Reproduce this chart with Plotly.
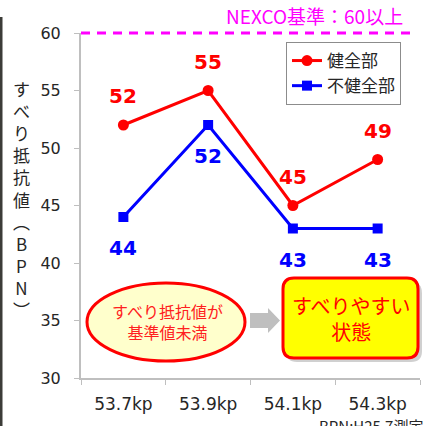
import plotly.graph_objects as go

categories = ["53.7kp", "53.9kp", "54.1kp", "54.3kp"]
healthy = [52, 55, 45, 49]
unhealthy = [44, 52, 43, 43]
healthy_name = "健全部"
unhealthy_name = "不健全部"
y_ticks = [30, 35, 40, 45, 50, 55, 60]
standard_value = 60

W, H = 434, 426
ML, MR, MT, MB = 81, 14, 33, 48
PW, PH = W - ML - MR, H - MT - MB

def px(x):
    return (x - ML) / PW

def py(y):
    return (H - MB - y) / PH

JP = "Noto Sans CJK JP"
NUM = "DejaVu Sans"

fig = go.Figure()
fig.add_trace(go.Scatter(
    x=categories, y=healthy, name=healthy_name, mode="lines+markers",
    line=dict(color="#FF0000", width=3),
    marker=dict(symbol="circle", size=11, color="#FF0000"),
))
fig.add_trace(go.Scatter(
    x=categories, y=unhealthy, name=unhealthy_name, mode="lines+markers",
    line=dict(color="#0000FF", width=3),
    marker=dict(symbol="square", size=10, color="#0000FF"),
))

annotations = []
for c, v in zip(categories, healthy):
    annotations.append(dict(x=c, y=v, xref="x", yref="y", text=str(v), showarrow=False,
                            yshift=29, font=dict(family=NUM, size=20, color="#FF0000", weight="bold")))
for c, v in zip(categories, unhealthy):
    annotations.append(dict(x=c, y=v, xref="x", yref="y", text=str(v), showarrow=False,
                            yshift=-31, font=dict(family=NUM, size=20, color="#0000FF", weight="bold")))

# y-axis title (vertical text)
title_chars = ["す", "べ", "り", "抵", "抗", "値", "︵", "B", "P", "N", "︶"]
annotations.append(dict(x=px(21), y=py(199), xref="paper", yref="paper", xanchor="center", yanchor="middle",
                        text="<br>".join(title_chars), showarrow=False,
                        font=dict(family=JP, size=17, color="#262626")))
# standard label
annotations.append(dict(x=px(405), y=py(16), xref="paper", yref="paper", xanchor="right", yanchor="middle",
                        text="NEXCO基準：" + str(standard_value) + "以上", showarrow=False,
                        font=dict(family=JP, size=19, color="#FF00FF")))
# ellipse text
annotations.append(dict(x=px(167), y=py(321), xref="paper", yref="paper", xanchor="center", yanchor="middle",
                        text="すべり抵抗値が<br>基準値未満", showarrow=False,
                        font=dict(family=JP, size=16, color="#FF2020")))
# box text
annotations.append(dict(x=px(351), y=py(318), xref="paper", yref="paper", xanchor="center", yanchor="middle",
                        text="すべりやすい<br>状態", showarrow=False,
                        font=dict(family=JP, size=20, color="#FF0000")))
# footnote
annotations.append(dict(x=px(317), y=py(413), xref="paper", yref="paper", xanchor="left", yanchor="top",
                        text="BPN:H25.7測定", showarrow=False,
                        font=dict(family=JP, size=15, color="#262626")))

def rounded_rect(x0, y0, x1, y1, r):
    pts = [
        ("M", [(x0 + r, y0)]),
        ("L", [(x1 - r, y0)]),
        ("Q", [(x1, y0), (x1, y0 + r)]),
        ("L", [(x1, y1 - r)]),
        ("Q", [(x1, y1), (x1 - r, y1)]),
        ("L", [(x0 + r, y1)]),
        ("Q", [(x0, y1), (x0, y1 - r)]),
        ("L", [(x0, y0 + r)]),
        ("Q", [(x0, y0), (x0 + r, y0)]),
    ]
    s = ""
    for cmd, ps in pts:
        s += cmd + " " + " ".join(f"{px(a):.5f},{py(b):.5f}" for a, b in ps) + " "
    return s + "Z"

def arrow_path():
    p = [(250, 313), (268, 313), (268, 308), (280, 320.5), (268, 333), (268, 328), (250, 328)]
    return "M " + " L ".join(f"{px(a):.5f},{py(b):.5f}" for a, b in p) + " Z"

shapes = [
    dict(type="rect", xref="paper", yref="paper", x0=px(0), x1=px(2.5), y0=py(426), y1=py(17),
         fillcolor="#3c3c38", line=dict(width=0), layer="above"),
    dict(type="line", xref="paper", yref="paper", x0=0, x1=px(416), y0=1, y1=1,
         line=dict(color="#FF00FF", width=3, dash="9px,7px"), layer="above"),
    dict(type="circle", xref="paper", yref="paper", x0=px(87), x1=px(245), y0=py(361), y1=py(283),
         fillcolor="#FFFFCC", line=dict(color="#FF0000", width=3), layer="above"),
    dict(type="path", xref="paper", yref="paper", path=arrow_path(),
         fillcolor="#BFBFBF", line=dict(width=0), layer="above"),
    dict(type="path", xref="paper", yref="paper", path=rounded_rect(286, 282, 422, 362, 11),
         fillcolor="rgba(120,120,120,0.35)", line=dict(width=0), layer="above"),
    dict(type="path", xref="paper", yref="paper", path=rounded_rect(283, 278, 418, 358, 11),
         fillcolor="#FFFF00", line=dict(color="#FF0000", width=3), layer="above"),
]

fig.update_layout(
    width=W, height=H,
    margin=dict(l=ML, r=MR, t=MT, b=MB, pad=0),
    paper_bgcolor="white", plot_bgcolor="white",
    showlegend=True,
    legend=dict(x=px(286), y=py(42), xanchor="left", yanchor="top",
                bgcolor="white", bordercolor="#8C8C8C", borderwidth=1,
                font=dict(family=JP, size=17, color="#262626")),
    xaxis=dict(type="category", categoryorder="array", categoryarray=categories,
               range=[-0.5, len(categories) - 0.5],
               tickson="boundaries", ticks="outside", ticklen=5, tickcolor="#BFBFBF", tickwidth=1,
               showline=True, linecolor="#BFBFBF", linewidth=2, showgrid=False, zeroline=False,
               tickfont=dict(family=NUM, size=17, color="#262626"), ticklabelstandoff=10),
    yaxis=dict(range=[30, 60], tickvals=y_ticks, ticks="outside", ticklen=5, tickcolor="#BFBFBF",
               tickwidth=1, showline=True, linecolor="#BFBFBF", linewidth=2, showgrid=False,
               zeroline=False, tickfont=dict(family=NUM, size=16, color="#262626"),
               ticklabelstandoff=10),
    annotations=annotations,
    shapes=shapes,
)

fig.write_html("out.html")
